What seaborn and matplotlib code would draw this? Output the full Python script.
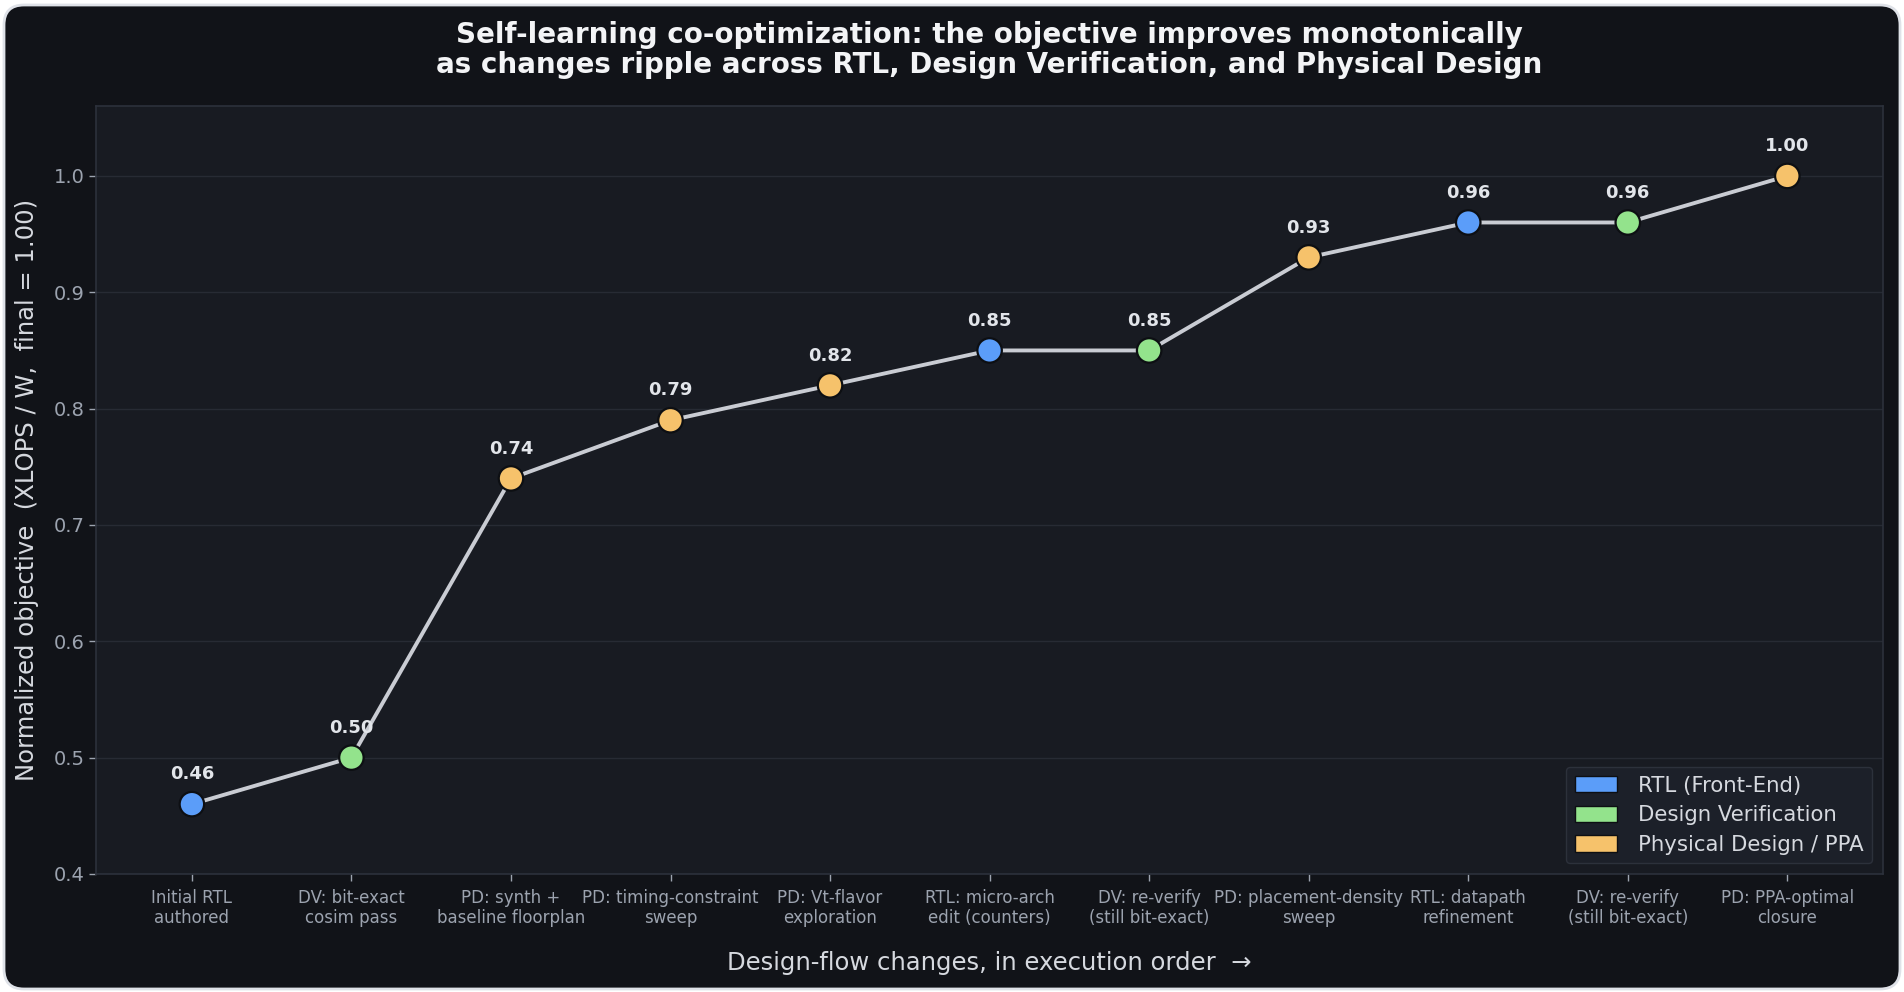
import numpy as np
import pandas as pd
import matplotlib
matplotlib.use('Agg')
import matplotlib.pyplot as plt
from matplotlib.patches import Patch, FancyBboxPatch
import seaborn as sns

# 数据
steps = [
    'Initial RTL\nauthored',
    'DV: bit-exact\ncosim pass',
    'PD: synth +\nbaseline floorplan',
    'PD: timing-constraint\nsweep',
    'PD: Vt-flavor\nexploration',
    'RTL: micro-arch\nedit (counters)',
    'DV: re-verify\n(still bit-exact)',
    'PD: placement-density\nsweep',
    'RTL: datapath\nrefinement',
    'DV: re-verify\n(still bit-exact)',
    'PD: PPA-optimal\nclosure',
]
objective = [0.46, 0.50, 0.74, 0.79, 0.82, 0.85, 0.85, 0.93, 0.96, 0.96, 1.00]
stage = ['RTL', 'DV', 'PD', 'PD', 'PD', 'RTL', 'DV', 'PD', 'RTL', 'DV', 'PD']

stage_names = {
    'RTL': 'RTL (Front-End)',
    'DV': 'Design Verification',
    'PD': 'Physical Design / PPA',
}
stage_colors = {'RTL': '#5b9df9', 'DV': '#93e38c', 'PD': '#f6c26b'}

df = pd.DataFrame({'step': np.arange(len(steps)), 'objective': objective, 'stage': stage})

# 样式
sns.set_theme(style='dark')
plt.rcParams['font.family'] = ['DejaVu Sans']

fig_bg = '#111318'
ax_bg = '#181b22'
grid_c = '#272b34'
tick_c = '#9ca3af'
text_c = '#d6d9df'

fig = plt.figure(figsize=(19.04, 9.92), dpi=100)
fig.patch.set_facecolor('white')

# 圆角卡片背景
card = FancyBboxPatch((0.04, 0.03), 19.04 - 0.08, 9.92 - 0.08,
                      boxstyle='round,pad=0,rounding_size=0.2',
                      transform=fig.dpi_scale_trans, facecolor=fig_bg,
                      edgecolor='#dfe2e8', linewidth=2.0, zorder=-10)
fig.patches.append(card)

ax = fig.add_axes([0.0505, 0.119, 0.9385, 0.774])
ax.set_facecolor(ax_bg)

sns.lineplot(data=df, x='step', y='objective', ax=ax, color='#c9ccd3',
             linewidth=2.8, zorder=2, legend=False)
sns.scatterplot(data=df, x='step', y='objective', hue='stage', palette=stage_colors,
                s=310, edgecolor='#0d0f13', linewidth=1.6, ax=ax, zorder=3, legend=False)

# 数值标注
for x, y in zip(df['step'], df['objective']):
    ax.annotate(f'{y:.2f}', (x, y), xytext=(0, 15), textcoords='offset points',
                ha='center', va='bottom', fontsize=13, fontweight='bold',
                color='#e2e5ea', zorder=4)

ax.set_xlim(-0.6, len(steps) - 0.4)
ax.set_ylim(0.4, 1.06)
ax.set_yticks([0.4, 0.5, 0.6, 0.7, 0.8, 0.9, 1.0])
ax.set_xticks(df['step'])
ax.set_xticklabels(steps, fontsize=12, color=tick_c)
ax.tick_params(axis='y', labelsize=14, colors=tick_c, length=5, width=1, left=True)
ax.tick_params(axis='x', colors=tick_c, length=5, width=1, bottom=True, pad=5.5)
for lab in ax.get_yticklabels():
    lab.set_color(tick_c)

ax.grid(axis='y', color=grid_c, linewidth=1.0)
ax.grid(axis='x', visible=False)
for sp in ax.spines.values():
    sp.set_color('#2c313b')
    sp.set_linewidth(1.2)

ax.set_xlabel('Design-flow changes, in execution order  \u2192', fontsize=17.5,
              color=text_c, labelpad=17)
ax.set_ylabel('Normalized objective  (XLOPS / W,  final = 1.00)', fontsize=17.5,
              color=text_c, labelpad=10)
ax.set_title('Self-learning co-optimization: the objective improves monotonically\n'
             'as changes ripple across RTL, Design Verification, and Physical Design',
             fontsize=20, fontweight='bold', color='#f3f4f6', pad=24, linespacing=1.1)

# 图例
handles = [Patch(facecolor=stage_colors[k], edgecolor='#0d0f13', label=stage_names[k])
           for k in ['RTL', 'DV', 'PD']]
leg = ax.legend(handles=handles, loc='lower right', fontsize=15.3, frameon=True,
                facecolor='#1c2029', edgecolor='#2c313b', framealpha=1.0,
                handlelength=2.0, handleheight=0.8, handletextpad=1.0,
                borderpad=0.4, labelspacing=0.45, borderaxespad=0.5)
for t in leg.get_texts():
    t.set_color(text_c)

fig.savefig('out.png', dpi=100, facecolor=fig.get_facecolor())
